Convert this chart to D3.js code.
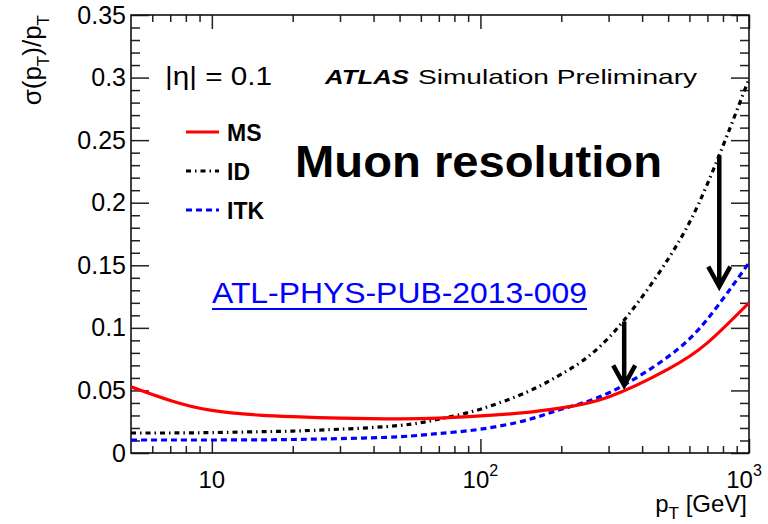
<!DOCTYPE html>
<html><head><meta charset="utf-8">
<script src="https://cdn.jsdelivr.net/npm/d3@7"></script>
<style>
html,body{margin:0;padding:0;background:#fff;}
text{font-family:"Liberation Sans",Arial,Helvetica,sans-serif;}
</style></head>
<body><svg id="c" width="768" height="524"></svg>
<script>
// ---- data ----
const pT = [5,7,10,15,20,30,50,70,100,150,200,300,500,700,1000];
const sigmaMS  = [0.053,0.042,0.034,0.0303,0.0290,0.0278,0.0272,0.0278,0.0296,0.0325,0.036,0.0448,0.067,0.088,0.120];
const sigmaID  = [0.016,0.016,0.0163,0.017,0.0175,0.019,0.022,0.027,0.035,0.049,0.063,0.092,0.155,0.215,0.299];
const sigmaITK = [0.0104,0.0104,0.0104,0.0105,0.0108,0.0115,0.013,0.0156,0.019,0.0265,0.035,0.048,0.077,0.107,0.152];
const seriesNames = ["MS","ID","ITK"];
const arrowPt = [775, 343];
const arrowFrom = [0.238, 0.105];
const arrowTo = [0.133, 0.054];
const yMajor = [0,0.05,0.1,0.15,0.2,0.25,0.3,0.35];
const yLabels = ["0","0.05","0.1","0.15","0.2","0.25","0.3","0.35"];
const xMajor = [10,100,1000];
const xLabelBase = ["10","10","10"];
const xLabelExp = ["","2","3"];

// ---- layout ----
const L=131,R=749,T=15,B=453;
const svg=d3.select("#c");
const x=d3.scaleLog().domain([5,1000]).range([L,R]);
const y=d3.scaleLinear().domain([0,0.35]).range([B,T]);

const yMinor=d3.range(0,0.351,0.01).map(v=>+v.toFixed(2)).filter(v=>Math.round(v*100)%5!==0);
const xMinor=[6,7,8,9,20,30,40,50,60,70,80,90,200,300,400,500,600,700,800,900];

function styleAxis(g){g.select(".domain").remove();g.selectAll(".tick line").attr("stroke","#222").attr("stroke-width",1.5);}

// left axis with labels
svg.append("g").attr("transform",`translate(${L},0)`)
  .call(d3.axisLeft(y).tickValues(yMajor).tickSizeInner(-18).tickSizeOuter(0).tickPadding(5)
     .tickFormat((d,i)=>yLabels[i]))
  .call(styleAxis)
  .call(g=>g.selectAll("text").attr("font-size",25).attr("fill","#000").attr("font-family","Liberation Sans, Arial"));
svg.append("g").attr("transform",`translate(${L},0)`)
  .call(d3.axisLeft(y).tickValues(yMinor).tickSizeInner(-9).tickSizeOuter(0).tickFormat(""))
  .call(styleAxis);
// right axis
svg.append("g").attr("transform",`translate(${R},0)`)
  .call(d3.axisRight(y).tickValues(yMajor).tickSizeInner(-18).tickSizeOuter(0).tickFormat(""))
  .call(styleAxis);
svg.append("g").attr("transform",`translate(${R},0)`)
  .call(d3.axisRight(y).tickValues(yMinor).tickSizeInner(-9).tickSizeOuter(0).tickFormat(""))
  .call(styleAxis);
// bottom axis
svg.append("g").attr("transform",`translate(0,${B})`)
  .call(d3.axisBottom(x).tickValues(xMajor).tickSizeInner(-14).tickSizeOuter(0).tickFormat(""))
  .call(styleAxis);
svg.append("g").attr("transform",`translate(0,${B})`)
  .call(d3.axisBottom(x).tickValues(xMinor).tickSizeInner(-7).tickSizeOuter(0).tickFormat(""))
  .call(styleAxis);
// top axis
svg.append("g").attr("transform",`translate(0,${T})`)
  .call(d3.axisTop(x).tickValues(xMajor).tickSizeInner(-14).tickSizeOuter(0).tickFormat(""))
  .call(styleAxis);
svg.append("g").attr("transform",`translate(0,${T})`)
  .call(d3.axisTop(x).tickValues(xMinor).tickSizeInner(-7).tickSizeOuter(0).tickFormat(""))
  .call(styleAxis);

// x labels
const xl=svg.append("g");
xMajor.forEach((v,i)=>{
  const t=xl.append("text").attr("y",488).attr("font-size",24).attr("text-anchor","middle")
    .attr("x",x(v)-(i===2?5:0));
  t.append("tspan").text(xLabelBase[i]);
  if(xLabelExp[i]) t.append("tspan").attr("font-size",16).attr("dy",-12).text(xLabelExp[i]);
});

// frame
svg.append("rect").attr("x",L).attr("y",T).attr("width",R-L).attr("height",B-T)
  .attr("fill","none").attr("stroke","#111").attr("stroke-width",1.6);

// curves
svg.append("clipPath").attr("id","clip").append("rect").attr("x",L).attr("y",T).attr("width",R-L).attr("height",B-T);
const line=d3.line().x(d=>x(d[0])).y(d=>y(d[1])).curve(d3.curveNatural);
const styles={
  MS:{c:"#ff0000",dash:null,vals:sigmaMS},
  ID:{c:"#000000",dash:"5,4,1.5,4",vals:sigmaID},
  ITK:{c:"#0000ff",dash:"6,4",vals:sigmaITK}
};
const cg=svg.append("g").attr("clip-path","url(#clip)");
["ID","ITK","MS"].forEach(n=>{
  const s=styles[n];
  cg.append("path").datum(pT.map((p,i)=>[p,s.vals[i]])).attr("d",line)
    .attr("fill","none").attr("stroke",s.c).attr("stroke-width",3.2)
    .attr("stroke-dasharray",s.dash);
});

// arrows
arrowPt.forEach((p,i)=>{
  const ax=x(p),y0=y(arrowFrom[i]),y1=y(arrowTo[i]);
  svg.append("path").attr("d",`M${ax},${y0}L${ax},${y1}M${ax-11},${y1-20}L${ax},${y1}L${ax+11},${y1-20}`)
    .attr("fill","none").attr("stroke","#000").attr("stroke-width",4.5).attr("stroke-linejoin","miter");
});

// legend
const legY=[132,171,210];
seriesNames.forEach((n,i)=>{
  const s=styles[n];
  svg.append("line").attr("x1",186).attr("x2",219).attr("y1",legY[i]).attr("y2",legY[i])
    .attr("stroke",s.c).attr("stroke-width",3.2).attr("stroke-dasharray",s.dash);
  svg.append("text").attr("x",227).attr("y",legY[i]+8.5).attr("font-size",23).attr("font-weight","bold").text(n);
});

// texts
svg.append("text").attr("x",165).attr("y",85).attr("font-size",26).attr("textLength",107)
  .attr("lengthAdjust","spacingAndGlyphs").text("|η| = 0.1");
svg.append("text").attr("x",325).attr("y",83.5).attr("font-size",21).attr("font-weight","bold")
  .attr("font-style","italic").attr("textLength",84).attr("lengthAdjust","spacingAndGlyphs").text("ATLAS");
svg.append("text").attr("x",418).attr("y",83.5).attr("font-size",21).attr("textLength",279)
  .attr("lengthAdjust","spacingAndGlyphs").text("Simulation Preliminary");
svg.append("text").attr("x",295).attr("y",177).attr("font-size",44).attr("font-weight","bold")
  .attr("textLength",367).attr("lengthAdjust","spacingAndGlyphs").text("Muon resolution");
svg.append("text").attr("x",212).attr("y",303).attr("font-size",30).attr("fill","#0000ff")
  .attr("textLength",375).attr("lengthAdjust","spacingAndGlyphs").text("ATL-PHYS-PUB-2013-009");
svg.append("line").attr("x1",212).attr("x2",587).attr("y1",309).attr("y2",309)
  .attr("stroke","#0000ff").attr("stroke-width",2);

// axis titles
const xt=svg.append("text").attr("x",747).attr("y",512).attr("font-size",24).attr("text-anchor","end");
xt.append("tspan").text("p");
xt.append("tspan").attr("font-size",17).attr("dy",7).text("T");
xt.append("tspan").attr("dy",-7).text(" [GeV]");

const yt=svg.append("text").attr("transform","translate(41,15) rotate(-90)").attr("font-size",26).attr("text-anchor","end");
yt.append("tspan").text("σ(p");
yt.append("tspan").attr("font-size",17).attr("dy",8).text("T");
yt.append("tspan").attr("dy",-8).text(")/p");
yt.append("tspan").attr("font-size",17).attr("dy",8).text("T");
</script></body></html>
